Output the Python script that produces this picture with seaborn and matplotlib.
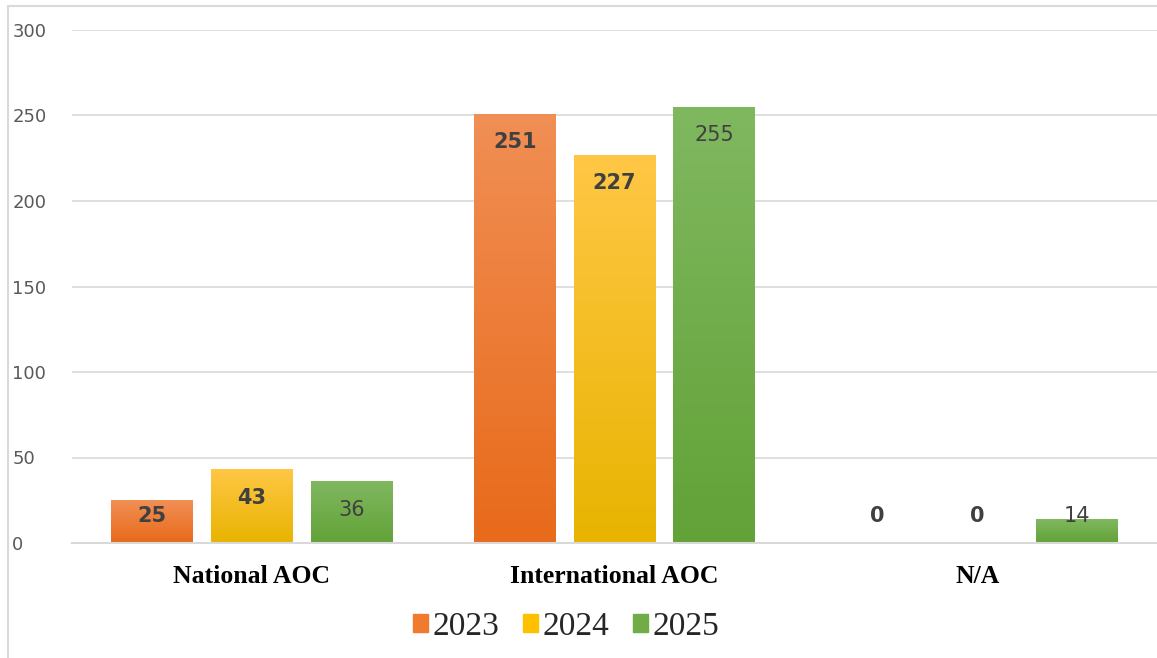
import numpy as np
import pandas as pd
import matplotlib.pyplot as plt
import seaborn as sns
from matplotlib.colors import LinearSegmentedColormap
from matplotlib.patches import Rectangle

# -----------------------------
# DATA
# -----------------------------
categories = ["National AOC", "International AOC", "N/A"]
years = ["2023", "2024", "2025"]
values_2023 = [25, 251, 0]
values_2024 = [43, 227, 0]
values_2025 = [36, 255, 14]

rows = []
for year, vals in zip(years, [values_2023, values_2024, values_2025]):
    for cat, v in zip(categories, vals):
        rows.append({"category": cat, "year": year, "count": v})
df = pd.DataFrame(rows)

# top / bottom of each bar's gradient
colors_top = {"2023": "#F18F55", "2024": "#FFC745", "2025": "#80B860"}
colors_bot = {"2023": "#E86A1A", "2024": "#E8B400", "2025": "#62A237"}
mid_colors = {"2023": "#F07A2E", "2024": "#FFC000", "2025": "#70AD47"}

# -----------------------------
# PLOT
# -----------------------------
sns.set_theme(style="white")
plt.rcParams["font.family"] = ["DejaVu Sans"]
fig = plt.figure(figsize=(11.57, 6.58), dpi=100)
ax = fig.add_axes([72 / 1157, 115 / 658, 1 - 72 / 1157, 513 / 658])

sns.barplot(
    data=df, x="category", y="count", hue="year",
    palette=mid_colors, width=0.825, gap=0.18,
    linewidth=0, ax=ax, legend=False
)

ax.set_ylim(0, 300)
ax.set_xlim(-0.495, 2.495)
ax.set_yticks(range(0, 301, 50))
ax.yaxis.grid(True, color="#D9D9D9", linewidth=1.2)
ax.set_axisbelow(True)
for s in ["top", "right", "left"]:
    ax.spines[s].set_visible(False)
ax.spines["bottom"].set_color("#D9D9D9")
ax.spines["bottom"].set_linewidth(1.5)
ax.set_xlabel("")
ax.set_ylabel("")
ax.tick_params(axis="both", length=0)
ax.tick_params(axis="y", labelsize=13, labelcolor="#595959", pad=43)
for lbl in ax.get_yticklabels():
    lbl.set_horizontalalignment("left")
ax.tick_params(axis="x", pad=16)
for lbl in ax.get_xticklabels():
    lbl.set_fontfamily("Liberation Serif")
    lbl.set_fontweight("bold")
    lbl.set_fontsize(18.5)
    lbl.set_color("black")

# gradient fill + labels
grad = np.linspace(0, 1, 256).reshape(-1, 1)
for container, year in zip(ax.containers, years):
    cmap = LinearSegmentedColormap.from_list(year, [colors_bot[year], colors_top[year]])
    for bar, v in zip(container, df[df.year == year]["count"]):
        x0, w, h = bar.get_x(), bar.get_width(), bar.get_height()
        if h > 0:
            im = ax.imshow(grad, extent=(x0, x0 + w, 0, h), origin="lower",
                           cmap=cmap, aspect="auto", zorder=bar.get_zorder())
            im.set_clip_path(bar)
        y_lab = max(v - 16.5, 15.5)
        ax.text(x0 + w / 2, y_lab, str(v), ha="center", va="center",
                fontsize=15, color="#404040",
                fontweight="normal" if year == "2025" else "bold")

ax.set_xlim(-0.495, 2.495)
ax.set_ylim(0, 300)

# legend
handles = [plt.Rectangle((0, 0), 1, 1, color=mid_colors[y]) for y in years]
fig.legend(handles, years, loc="center", bbox_to_anchor=(566 / 1157, 1 - 627 / 658),
           ncol=3, frameon=False, prop={"family": "Liberation Serif", "size": 24},
           handlelength=0.45, handleheight=0.45, handletextpad=0.15, columnspacing=0.7)

# outer chart border
fig.patches.append(Rectangle((8 / 1157, -0.01), 1.1, 1 - 6 / 658 + 0.01,
                             transform=fig.transFigure, fill=False,
                             edgecolor="#D9D9D9", linewidth=1.5))

fig.savefig("out.png", dpi=100)
